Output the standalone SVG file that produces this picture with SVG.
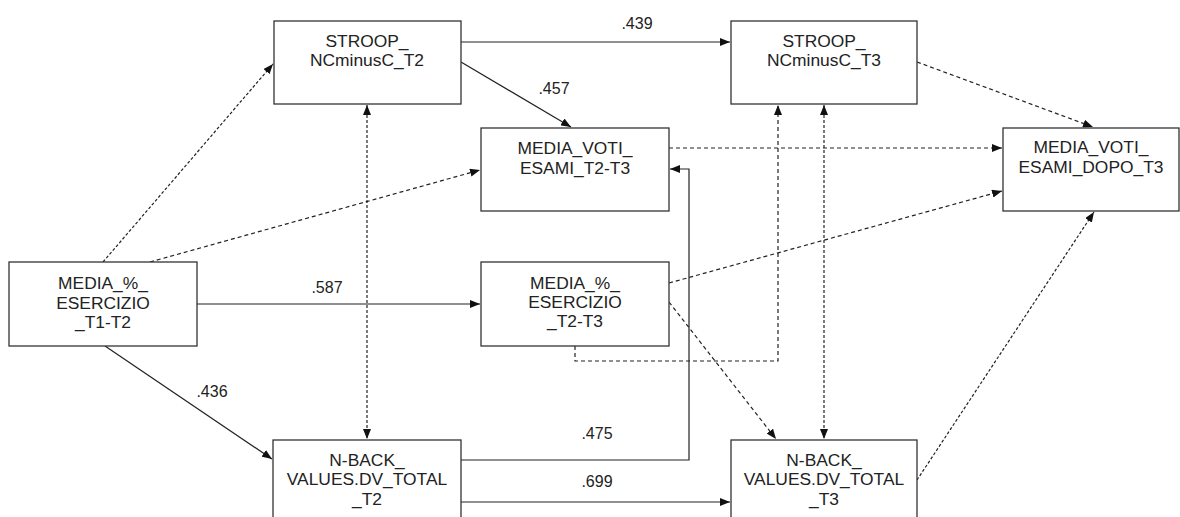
<svg xmlns="http://www.w3.org/2000/svg" width="1180" height="517" viewBox="0 0 1180 517">
<style>
.box{fill:#fff;stroke:#333;stroke-width:1.3}
.t{font-family:"Liberation Sans",Arial,sans-serif;font-size:17.4px;fill:#222;text-anchor:middle}
.l{font-family:"Liberation Sans",Arial,sans-serif;font-size:16px;fill:#222;text-anchor:middle}
.c{fill:none;stroke:#222;stroke-width:1.2}
.solid{marker-end:url(#ah)}
.dash{stroke-dasharray:4,3;marker-end:url(#ah)}
.dot{stroke-dasharray:3,2;marker-end:url(#ah)}
.bi{stroke-dasharray:3,2;marker-end:url(#ah);marker-start:url(#ah)}
</style>
<defs>
<marker id="ah" markerUnits="userSpaceOnUse" markerWidth="11" markerHeight="8" refX="10" refY="4" orient="auto-start-reverse"><path d="M0,0 L10,4 L0,8 z" fill="#111"/></marker>
</defs>
<rect width="1180" height="517" fill="#fff"/>
<g id="connectors">
<line class="c solid" x1="461" y1="42" x2="730" y2="42"/>
<line class="c solid" x1="461" y1="62" x2="571" y2="127"/>
<line class="c dot" x1="103" y1="262" x2="273" y2="64"/>
<line class="c dash" x1="150" y1="262" x2="480" y2="170"/>
<line class="c solid" x1="197" y1="304" x2="480" y2="304"/>
<line class="c solid" x1="105" y1="346" x2="272" y2="459"/>
<line class="c bi" x1="367" y1="105" x2="367" y2="439"/>
<line class="c dash" x1="669" y1="148" x2="1002" y2="148"/>
<line class="c dash" x1="917" y1="62" x2="1093" y2="127"/>
<line class="c dash" x1="669" y1="283" x2="1002" y2="191"/>
<line class="c dot" x1="917" y1="480" x2="1094" y2="212"/>
<line class="c dash" x1="669" y1="302" x2="776" y2="439"/>
<polyline class="c dash" points="575,346 575,361 778,361 778,105"/>
<line class="c bi" x1="824" y1="105" x2="824" y2="439"/>
<polyline class="c solid" points="461,460 689,460 689,169 670,169"/>
<line class="c solid" x1="461" y1="502" x2="730" y2="502"/>
<text class="l" x="637" y="29">.439</text>
<text class="l" x="554" y="94">.457</text>
<text class="l" x="327" y="293">.587</text>
<text class="l" x="212" y="397">.436</text>
<text class="l" x="597" y="439">.475</text>
<text class="l" x="597" y="487">.699</text>
</g>
<g id="stroop_t2"><rect class="box" x="274" y="21" width="187" height="83"/><text class="t" x="367" y="47">STROOP_</text><text class="t" x="367" y="66">NCminusC_T2</text></g>
<g id="stroop_t3"><rect class="box" x="731" y="21" width="186" height="83"/><text class="t" x="824" y="47">STROOP_</text><text class="t" x="824" y="66">NCminusC_T3</text></g>
<g id="voti_t2t3"><rect class="box" x="481" y="128" width="188" height="83"/><text class="t" x="575" y="154">MEDIA_VOTI_</text><text class="t" x="575" y="174">ESAMI_T2-T3</text></g>
<g id="voti_dopo"><rect class="box" x="1003" y="128" width="176" height="83"/><text class="t" x="1091" y="153">MEDIA_VOTI_</text><text class="t" x="1091" y="173">ESAMI_DOPO_T3</text></g>
<g id="es_t1t2"><rect class="box" x="9" y="262" width="188" height="84"/><text class="t" x="103" y="289">MEDIA_%_</text><text class="t" x="103" y="309">ESERCIZIO</text><text class="t" x="103" y="328">_T1-T2</text></g>
<g id="es_t2t3"><rect class="box" x="481" y="262" width="188" height="84"/><text class="t" x="575" y="289">MEDIA_%_</text><text class="t" x="575" y="308">ESERCIZIO</text><text class="t" x="575" y="327">_T2-T3</text></g>
<g id="nback_t2"><rect class="box" x="273" y="440" width="188" height="90"/><text class="t" x="367" y="466">N-BACK_</text><text class="t" x="367" y="485">VALUES.DV_TOTAL</text><text class="t" x="367" y="505">_T2</text></g>
<g id="nback_t3"><rect class="box" x="731" y="440" width="186" height="90"/><text class="t" x="824" y="466">N-BACK_</text><text class="t" x="824" y="485">VALUES.DV_TOTAL</text><text class="t" x="824" y="505">_T3</text></g>
</svg>
